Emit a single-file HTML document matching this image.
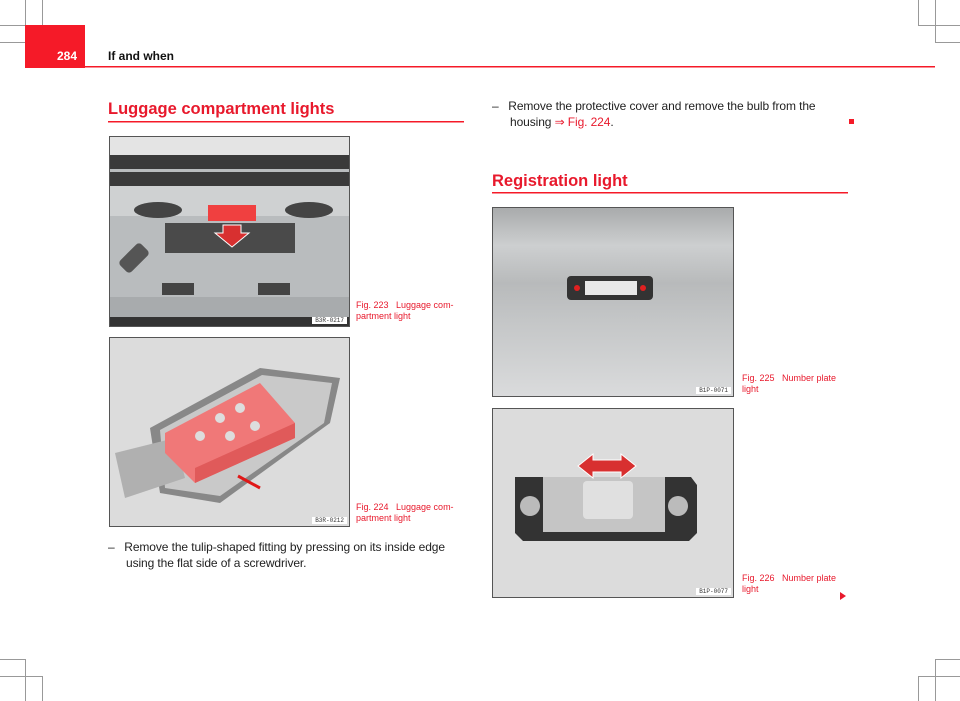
<!DOCTYPE html>
<html><head><meta charset="utf-8"><style>
body{margin:0;width:960px;height:701px;position:relative;background:#fff;font-family:"Liberation Sans",sans-serif;overflow:hidden}
.a{position:absolute}
.t{font-size:12px;letter-spacing:-0.1px;color:#222;line-height:16px}
.cap{font-size:9px;color:#e8192c;line-height:11px;width:100px}
.fig{position:absolute;border:1px solid #555;overflow:hidden}
.code{position:absolute;right:2px;bottom:2px;background:#fff;font-size:6px;padding:0 3px;color:#333;font-family:"Liberation Mono",monospace}
</style></head><body>
<svg class="a" style="left:0;top:0" width="960" height="701">
<g stroke="#999" stroke-width="1" fill="none">
<path d="M25.5 0V42M42.5 0V25M0 25.5H42M0 42.5H25"/>
<path d="M918.5 0V25M935.5 0V42M918 25.5H960M935 42.5H960"/>
<path d="M25.5 659V701M42.5 676V701M0 659.5H25M0 676.5H42"/>
<path d="M935.5 659V701M918.5 676V701M935 659.5H960M918 676.5H960"/>
</g>
<rect x="25" y="25" width="60" height="43" fill="#f51a28"/>
<rect x="25" y="66" width="910" height="1.5" fill="#f51a28"/>
<rect x="108" y="121" width="356" height="1.5" fill="#f51a28"/>
<rect x="492" y="192" width="356" height="1.5" fill="#f51a28"/>
<rect x="849" y="119" width="5" height="5" fill="#f51a28"/>
<path d="M840 592l6 4-6 4z" fill="#e8192c"/>
</svg>
<div class="a" style="left:57px;top:49px;color:#fff;font-weight:bold;font-size:12px">284</div>
<div class="a" style="left:108px;top:49px;color:#111;font-weight:bold;font-size:12px">If and when</div>
<div class="a" style="left:108px;top:100px;color:#e8192c;font-weight:bold;font-size:16.5px">Luggage compartment lights</div>
<div class="a" style="left:492px;top:172px;color:#e8192c;font-weight:bold;font-size:16.5px">Registration light</div>

<div class="fig" style="left:109px;top:136px;width:239px;height:189px;background:#b9bcbe">
<svg width="239" height="189">
<rect width="239" height="20" fill="#e4e4e4"/>
<rect y="18" width="239" height="14" fill="#3a3a3a"/><rect y="35" width="239" height="14" fill="#3a3a3a"/>
<rect y="49" width="239" height="30" fill="#cfd1d2"/>
<ellipse cx="48" cy="73" rx="24" ry="8" fill="#444"/><ellipse cx="199" cy="73" rx="24" ry="8" fill="#444"/>
<rect x="55" y="86" width="130" height="30" fill="#4a4a4a"/>
<rect x="98" y="68" width="48" height="16" fill="#f04040"/>
<path d="M113 88h18v8h8l-17 14-17-14h8z" fill="#d83030" stroke="#fff"/>
<rect x="16" y="106" width="16" height="30" rx="4" fill="#555" transform="rotate(45 24 121)"/>
<rect x="52" y="146" width="32" height="12" fill="#444"/><rect x="148" y="146" width="32" height="12" fill="#444"/>
<rect y="160" width="239" height="20" fill="#a8abad"/>
<rect y="180" width="239" height="9" fill="#333"/>
</svg><span class="code">B3R-0217</span></div>
<div class="a cap" style="left:356px;top:300px">Fig. 223&nbsp;&nbsp; Luggage com-<br>partment light</div>

<div class="fig" style="left:109px;top:337px;width:239px;height:188px;background:#dcdcdc">
<svg width="239" height="188">
<path d="M40 90L150 30l80 10-10 45-110 80-60-10z" fill="#888"/>
<path d="M50 92L152 37l70 8-8 40-104 73-55-8z" fill="#c9c9c9"/>
<path d="M5 115l60-15 10 40-60 20z" fill="#b0b0b0"/>
<path d="M55 95l95-50 35 40v15l-100 45-30-30z" fill="#f07878"/>
<path d="M85 130l100-45v15l-100 45z" fill="#e05a5a"/>
<circle cx="110" cy="80" r="5" fill="#ddd"/><circle cx="130" cy="70" r="5" fill="#ddd"/><circle cx="90" cy="98" r="5" fill="#ddd"/><circle cx="120" cy="98" r="5" fill="#ddd"/><circle cx="145" cy="88" r="5" fill="#ddd"/>
<path d="M150 150l-22-12" stroke="#e01818" stroke-width="3"/>
</svg><span class="code">B3R-0212</span></div>
<div class="a cap" style="left:356px;top:502px">Fig. 224&nbsp;&nbsp; Luggage com-<br>partment light</div>

<div class="a t" style="left:108px;top:539px">–&nbsp;&nbsp; Remove the tulip-shaped fitting by pressing on its inside edge<br><span style="padding-left:18px">using the flat side of a screwdriver.</span></div>
<div class="a t" style="left:492px;top:98px">–&nbsp;&nbsp; Remove the protective cover and remove the bulb from the<br><span style="padding-left:18px">housing <span style="color:#e8192c">⇒ Fig. 224</span>.</span></div>

<div class="fig" style="left:492px;top:207px;width:240px;height:188px;background:linear-gradient(#a9abac,#cdcfd0 20%,#b8babb 40%,#c4c6c7 60%,#dadbdc)">
<svg width="240" height="188"><rect x="74" y="68" width="86" height="24" rx="4" fill="#333"/><rect x="92" y="73" width="52" height="14" fill="#e8e8e8"/><circle cx="84" cy="80" r="3" fill="#e02020"/><circle cx="150" cy="80" r="3" fill="#e02020"/></svg>
<span class="code">B1P-0071</span></div>
<div class="a cap" style="left:742px;top:373px;width:95px">Fig. 225&nbsp;&nbsp; Number plate<br>light</div>

<div class="fig" style="left:492px;top:408px;width:240px;height:188px;background:#dcdcdc">
<svg width="240" height="188"><path d="M22 68h176l6 8v48l-8 8H30l-8-8z" fill="#333"/><rect x="50" y="68" width="122" height="55" fill="#c5c5c5"/><rect x="90" y="72" width="50" height="38" rx="4" fill="#e0e0e0"/><circle cx="37" cy="97" r="10" fill="#bbb"/><circle cx="185" cy="97" r="10" fill="#bbb"/>
<path d="M85 57l15-12v6h28v-6l15 12-15 12v-6h-28v6z" fill="#d83030" stroke="#fff"/></svg>
<span class="code">B1P-0077</span></div>
<div class="a cap" style="left:742px;top:573px;width:95px">Fig. 226&nbsp;&nbsp; Number plate<br>light</div>
</body></html>
